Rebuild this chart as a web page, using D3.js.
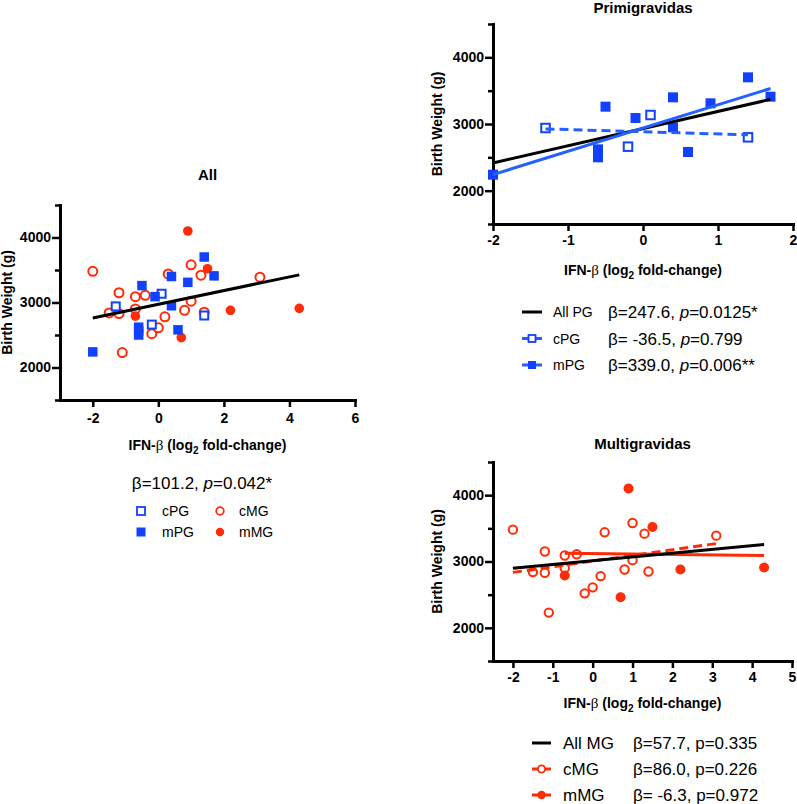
<!DOCTYPE html>
<html>
<head>
<meta charset="utf-8">
<script src="https://cdn.jsdelivr.net/npm/d3@7"></script>
<style>
  body { margin: 0; background: #fff; }
  svg text { font-family: "Liberation Sans", Arial, Helvetica, sans-serif; fill: #000; }
</style>
</head>
<body>
<svg id="chart" width="797" height="804"></svg>
<script>
// ========== Data ==========
const cPG_x = [-1.3, -0.2, 0.1, 1.4];
const cPG_y = [2940, 2660, 3135, 2800];
const mPG_x = [-2, -0.6, -0.6, -0.6, -0.5, -0.1, 0.4, 0.4, 0.6, 0.9, 1.4, 1.7];
const mPG_y = [2240, 2620, 2560, 2500, 3260, 3090, 3400, 2950, 2580, 3310, 3700, 3410];
const cMG_x = [-2, -1.5, -1.2, -1.2, -1.1, -0.7, -0.7, -0.4, -0.2, 0, 0.2, 0.3, 0.8, 1.0, 1.0, 1.3, 1.4, 3.1];
const cMG_y = [3480, 2840, 3150, 2830, 2230, 3090, 2900, 3110, 2520, 2610, 2780, 3440, 2880, 3580, 3020, 3420, 2850, 3390];
const mMG_x = [-0.7, 0.7, 0.9, 1.5, 2.2, 4.3];
const mMG_y = [2790, 2460, 4100, 3520, 2880, 2910];

const yMajor = [2000, 3000, 4000];
const yMinor = [1500, 2500, 3500, 4500];
const xTicksAll = [-2, 0, 2, 4, 6];
const xTicksPG = [-2, -1, 0, 1, 2];
const xTicksMG = [-2, -1, 0, 1, 2, 3, 4, 5];

const statAll = ["101.2", "0.042*"];
const legendPG = [["All PG", "=247.6, ", "0.0125*"], ["cPG", "= -36.5, ", "0.799"], ["mPG", "=339.0, ", "0.006**"]];
const legendMG = [["All MG", "=57.7, p=0.335"], ["cMG", "=86.0, p=0.226"], ["mMG", "= -6.3, p=0.972"]];
const legendAll = [["cPG", "cMG"], ["mPG", "mMG"]];

const BLUE = "#1240ff";
const BLUE_LINE = "#2460ff";
const RED = "#ff2a06";

// ========== Helpers ==========
const zip = (xs, ys) => xs.map((x, i) => [x, ys[i]]);

function fit(xs, ys) {
    const mx = d3.mean(xs), my = d3.mean(ys);
    const sxy = d3.sum(xs, (x, i) => (x - mx) * (ys[i] - my));
    const sxx = d3.sum(xs, x => (x - mx) * (x - mx));
    const b = sxy / sxx, a = my - b * mx;
    const [x0, x1] = d3.extent(xs);
    return [[x0, a + b * x0], [x1, a + b * x1]];
}

const svg = d3.select("#chart");

function panel(cfg) {
    const g = svg.append("g");
    const x = d3.scaleLinear().domain(cfg.xDomain).range([cfg.left, cfg.right]);
    const y = d3.scaleLinear().domain([1500, 4500]).range([cfg.bottom, cfg.top]);

    // y axis
    const ya = g.append("g").attr("transform", `translate(${cfg.left},0)`)
        .call(d3.axisLeft(y).tickValues(yMajor).tickSize(8).tickSizeOuter(0).tickPadding(1).tickFormat(d => String(d)));
    ya.select(".domain").attr("stroke-width", 3).attr("stroke-linecap", "square");
    ya.selectAll(".tick line").attr("stroke-width", 2.5);
    ya.selectAll(".tick text").attr("font-size", 14).attr("font-weight", "bold");
    const ym = g.append("g").attr("transform", `translate(${cfg.left},0)`)
        .call(d3.axisLeft(y).tickValues(yMinor).tickSize(5).tickFormat(""));
    ym.select(".domain").remove();
    ym.selectAll(".tick line").attr("stroke-width", 2.5);

    // x axis
    const xa = g.append("g").attr("transform", `translate(0,${cfg.bottom})`)
        .call(d3.axisBottom(x).tickValues(cfg.xTicks).tickSize(7).tickSizeOuter(0).tickPadding(cfg.xPad).tickFormat(d => String(d)));
    xa.select(".domain").attr("stroke-width", 3).attr("stroke-linecap", "square");
    xa.selectAll(".tick line").attr("stroke-width", 2.5);
    xa.selectAll(".tick text").attr("font-size", 14).attr("font-weight", "bold");

    // title
    g.append("text").attr("x", (cfg.left + cfg.right) / 2).attr("y", cfg.titleY)
        .attr("text-anchor", "middle").attr("font-size", 15).attr("font-weight", "bold").text(cfg.title);

    // y label
    const cy = (cfg.top + cfg.bottom) / 2;
    g.append("text").attr("transform", `translate(${cfg.yLabelX},${cy}) rotate(-90)`)
        .attr("text-anchor", "middle").attr("font-size", 14).attr("font-weight", "bold")
        .text("Birth Weight (g)");

    // x label
    const xl = g.append("text").attr("x", (cfg.left + cfg.right) / 2).attr("y", cfg.bottom + cfg.xLabelOff)
        .attr("text-anchor", "middle").attr("font-size", 14).attr("font-weight", "bold");
    xl.append("tspan").text("IFN-");
    xl.append("tspan").attr("font-family", "'Liberation Serif', 'DejaVu Serif', serif").attr("font-weight", "normal").attr("font-size", 15).text("β");
    xl.append("tspan").text(" (log");
    xl.append("tspan").attr("font-size", 10).attr("dy", 4).text("2");
    xl.append("tspan").attr("dy", -4).text(" fold-change)");

    return { g, x, y };
}

function squares(p, xs, ys, size, filled) {
    p.g.append("g").selectAll("rect")
        .data(zip(xs, ys))
        .enter().append("rect")
        .attr("x", d => p.x(d[0]) - size / 2)
        .attr("y", d => p.y(d[1]) - size / 2)
        .attr("width", size).attr("height", size)
        .attr("fill", filled ? BLUE : "#fff")
        .attr("stroke", BLUE)
        .attr("stroke-width", filled ? 0 : 2);
}

function circles(p, xs, ys, r, filled) {
    p.g.append("g").selectAll("circle")
        .data(zip(xs, ys))
        .enter().append("circle")
        .attr("cx", d => p.x(d[0]))
        .attr("cy", d => p.y(d[1]))
        .attr("r", r)
        .attr("fill", filled ? RED : "#fff")
        .attr("stroke", RED)
        .attr("stroke-width", filled ? 0 : 2);
}

function fitLine(p, xs, ys, color, dash) {
    p.g.append("path")
        .datum(fit(xs, ys))
        .attr("d", d3.line().x(d => p.x(d[0])).y(d => p.y(d[1])))
        .attr("fill", "none")
        .attr("stroke", color)
        .attr("stroke-width", 3)
        .attr("stroke-dasharray", dash || null);
}

// ========== Panel: All ==========
const pAll = panel({ left: 60, right: 355, top: 205, bottom: 400, xDomain: [-3, 6], xTicks: xTicksAll,
    xPad: 6, title: "All", titleY: 180, yLabelX: 12, xLabelOff: 50 });
circles(pAll, cMG_x, cMG_y, 4.5, false);
circles(pAll, mMG_x, mMG_y, 4.8, true);
squares(pAll, cPG_x, cPG_y, 8, false);
squares(pAll, mPG_x, mPG_y, 9.5, true);
fitLine(pAll, cPG_x.concat(mPG_x, cMG_x, mMG_x), cPG_y.concat(mPG_y, cMG_y, mMG_y), "#000");

// legend (All)
const la = pAll.g.append("text").attr("x", 202).attr("y", 489).attr("text-anchor", "middle").attr("font-size", 17);
la.append("tspan").text("β=" + statAll[0] + ", ");
la.append("tspan").attr("font-style", "italic").text("p");
la.append("tspan").text("=" + statAll[1]);

legendAll.forEach((row, i) => {
    const cy = 511 + i * 21;
    const lg = pAll.g.append("g");
    if (i === 0) {
        lg.append("rect").attr("x", 137).attr("y", cy - 4).attr("width", 8).attr("height", 8)
            .attr("fill", "#fff").attr("stroke", BLUE).attr("stroke-width", 1.8);
        lg.append("circle").attr("cx", 220).attr("cy", cy).attr("r", 3.8)
            .attr("fill", "#fff").attr("stroke", RED).attr("stroke-width", 1.8);
    } else {
        lg.append("rect").attr("x", 136.5).attr("y", cy - 4.5).attr("width", 9).attr("height", 9).attr("fill", BLUE);
        lg.append("circle").attr("cx", 220).attr("cy", cy).attr("r", 4.2).attr("fill", RED);
    }
    lg.append("text").attr("x", 162).attr("y", cy + 5).attr("font-size", 14).text(row[0]);
    lg.append("text").attr("x", 239).attr("y", cy + 5).attr("font-size", 14).text(row[1]);
});

// ========== Panel: Primigravidas ==========
const pPG = panel({ left: 493, right: 793, top: 24, bottom: 224, xDomain: [-2, 2], xTicks: xTicksPG,
    xPad: 4, title: "Primigravidas", titleY: 13, yLabelX: 442, xLabelOff: 51 });
squares(pPG, cPG_x, cPG_y, 8.5, false);
squares(pPG, mPG_x, mPG_y, 10, true);
fitLine(pPG, cPG_x.concat(mPG_x), cPG_y.concat(mPG_y), "#000");
fitLine(pPG, mPG_x, mPG_y, BLUE_LINE);
fitLine(pPG, cPG_x, cPG_y, BLUE_LINE, "9,5");

legendPG.forEach((row, i) => {
    const cy = 312 + i * 26.5;
    const lg = pPG.g.append("g");
    const col = i === 0 ? "#000" : BLUE_LINE;
    lg.append("line").attr("x1", 522).attr("x2", 542).attr("y1", cy).attr("y2", cy)
        .attr("stroke", col).attr("stroke-width", 3);
    if (i === 1) {
        lg.append("rect").attr("x", 528.5).attr("y", cy - 3.5).attr("width", 7).attr("height", 7)
            .attr("fill", "#fff").attr("stroke", BLUE).attr("stroke-width", 1.8);
    } else if (i === 2) {
        lg.append("rect").attr("x", 528).attr("y", cy - 4).attr("width", 8).attr("height", 8).attr("fill", BLUE);
    }
    lg.append("text").attr("x", 553).attr("y", cy + 5).attr("font-size", 14).text(row[0]);
    const t = lg.append("text").attr("x", 608).attr("y", cy + 6).attr("font-size", 17);
    t.append("tspan").text("β" + row[1]);
    t.append("tspan").attr("font-style", "italic").text("p");
    t.append("tspan").text("=" + row[2]);
});

// ========== Panel: Multigravidas ==========
const pMG = panel({ left: 493, right: 792, top: 462, bottom: 661, xDomain: [-2.5, 5], xTicks: xTicksMG,
    xPad: 4, title: "Multigravidas", titleY: 449, yLabelX: 442, xLabelOff: 47 });
circles(pMG, cMG_x, cMG_y, 4.2, false);
circles(pMG, mMG_x, mMG_y, 5, true);
fitLine(pMG, cMG_x, cMG_y, RED, "9,5");
fitLine(pMG, mMG_x, mMG_y, RED);
fitLine(pMG, cMG_x.concat(mMG_x), cMG_y.concat(mMG_y), "#000");

legendMG.forEach((row, i) => {
    const cy = 743 + i * 26;
    const lg = pMG.g.append("g");
    const col = i === 0 ? "#000" : RED;
    lg.append("line").attr("x1", 532).attr("x2", 551).attr("y1", cy).attr("y2", cy)
        .attr("stroke", col).attr("stroke-width", 3);
    if (i === 1) {
        lg.append("circle").attr("cx", 541.5).attr("cy", cy).attr("r", 3.6)
            .attr("fill", "#fff").attr("stroke", RED).attr("stroke-width", 1.8);
    } else if (i === 2) {
        lg.append("circle").attr("cx", 541.5).attr("cy", cy).attr("r", 4.2).attr("fill", RED);
    }
    lg.append("text").attr("x", 563).attr("y", cy + 6).attr("font-size", 17).text(row[0]);
    lg.append("text").attr("x", 633).attr("y", cy + 6).attr("font-size", 17).text("β" + row[1]);
});
</script>
</body>
</html>
